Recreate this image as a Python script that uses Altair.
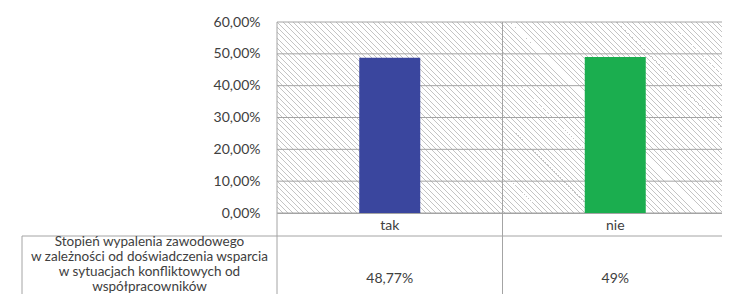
import altair as alt
import pandas as pd

# ---- data ----
categories = ["tak", "nie"]
values = [0.4877, 0.49]
value_labels = ["48,77%", "49%"]
bar_colors = ["#3a469e", "#1bae4f"]
y_ticks = [0.0, 0.1, 0.2, 0.3, 0.4, 0.5, 0.6]
row_header = "Stopień wypalenia zawodowego\nw zależności od doświadczenia wsparcia\nw sytuacjach konfliktowych od\nwspółpracowników"

W, H = 451, 191
FONT = "Lato"
GRID = "#a4a4a4"
TEXT = "#404040"

df = pd.DataFrame({"cat": categories, "val": values, "lab": value_labels})
ticks_df = pd.DataFrame({"t": y_ticks})
one = pd.DataFrame({"a": [0]})

# ---- diagonal hatch as a striped linear gradient ----
L = W + H
period = 5.3
lw = 1.0
s = (W + H) * W / (W * W + H * H)
HC = "#c4c4c4"
stops = []
k = 0
while k * period < L:
    a = k * period / L
    b = min((k * period + lw) / L, 1.0)
    stops += [{"offset": a, "color": HC}, {"offset": b, "color": HC},
              {"offset": b, "color": "#ffffff"}]
    nxt = min((k + 1) * period / L, 1.0)
    stops.append({"offset": nxt, "color": "#ffffff"})
    k += 1
hatch_fill = {"gradient": "linear", "x1": 0, "y1": 1, "x2": s, "y2": 1 - s * H / W, "stops": stops}

yscale = alt.Scale(domain=[0, 0.6], nice=False, zero=True)
xscale = alt.Scale(domain=categories, paddingInner=0, paddingOuter=0)

yaxis = alt.Axis(title=None, values=y_ticks, domain=False, ticks=False, grid=False,
                 labelExpr="replace(format(datum.value, '.2%'), '.', ',')",
                 labelFont=FONT, labelFontSize=14, labelColor=TEXT, labelPadding=17)
xaxis = alt.Axis(title=None, labelAngle=0, domain=True, domainColor=GRID,
                 ticks=False, labelFont=FONT, labelFontSize=14, labelColor=TEXT,
                 labelPadding=5, grid=False)

hatch = alt.Chart(one).mark_rect(fill=hatch_fill, strokeWidth=0).encode(
    x=alt.value(0), x2=alt.value("width"),
    y=alt.datum(0.6, scale=yscale, axis=yaxis), y2=alt.datum(0.0),
)

grid = alt.Chart(ticks_df).mark_rule(color=GRID, strokeWidth=1).encode(
    x=alt.value(0), x2=alt.value("width"),
    y=alt.Y("t:Q", scale=yscale, axis=yaxis),
)

vsep = alt.Chart(df).mark_rule(color=GRID, strokeWidth=1).encode(
    x=alt.X("cat:N", scale=xscale, sort=categories, bandPosition=0, axis=xaxis),
    y=alt.value(0), y2=alt.value(H + 100),
)
vright = alt.Chart(one).mark_rule(color=GRID, strokeWidth=1).encode(
    x=alt.value("width"), y=alt.value(0), y2=alt.value(H + 100),
)

bars = alt.Chart(df).mark_bar(size=61).encode(
    x=alt.X("cat:N", scale=xscale, sort=categories, axis=xaxis),
    y=alt.Y("val:Q", scale=yscale, axis=yaxis),
    color=alt.Color("cat:N", scale=alt.Scale(domain=categories, range=bar_colors), legend=None),
)

# ---- data table below ----
hline = alt.Chart(one).mark_rule(color=GRID, strokeWidth=1).encode(
    x=alt.value(-255), x2=alt.value("width"), y=alt.value(H + 23),
)
hleft = alt.Chart(one).mark_rule(color=GRID, strokeWidth=1).encode(
    x=alt.value(-255), y=alt.value(H + 23), y2=alt.value(H + 100),
)
vals = alt.Chart(df).mark_text(font=FONT, fontSize=14, color=TEXT, baseline="alphabetic").encode(
    x=alt.X("cat:N", scale=xscale, sort=categories, axis=xaxis), y=alt.value(H + 70), text="lab:N",
)
header = alt.Chart(pd.DataFrame({"h": [row_header]})).mark_text(
    font=FONT, fontSize=13.5, color=TEXT, baseline="alphabetic", align="center",
    lineBreak="\n", lineHeight=15,
).encode(x=alt.value(-127.5), y=alt.value(H + 33), text="h:N")

chart = alt.layer(hatch, grid, vsep, vright, bars, hline, hleft, vals, header).properties(
    width=W, height=H,
    autosize=alt.AutoSizeParams(type="none"),
    padding={"left": 269, "top": 14, "right": -6, "bottom": 81},
).configure_view(stroke=None).configure(font=FONT, background="white")

chart.save("out.html", embed_options={"renderer": "svg", "actions": False})
